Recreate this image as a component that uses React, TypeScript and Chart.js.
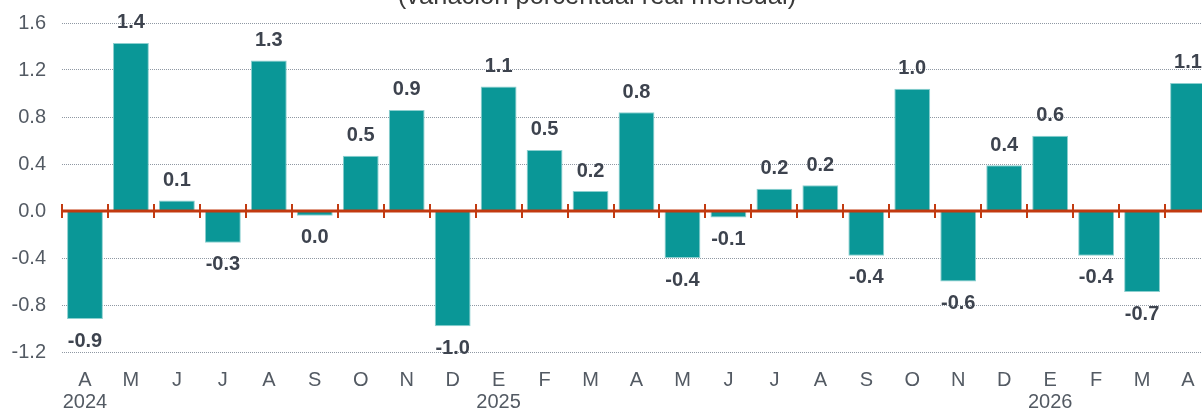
import React, { useEffect, useRef } from "react";
import { Chart, registerables } from "chart.js";

Chart.register(...registerables);

const months = ["A", "M", "J", "J", "A", "S", "O", "N", "D", "E", "F", "M", "A", "M", "J", "J", "A", "S", "O", "N", "D", "E", "F", "M", "A"];
const years = ["2024", "", "", "", "", "", "", "", "", "2025", "", "", "", "", "", "", "", "", "", "", "", "2026", "", "", ""];
const values = [-0.92, 1.43, 0.09, -0.27, 1.28, -0.04, 0.47, 0.86, -0.98, 1.06, 0.52, 0.17, 0.84, -0.4, -0.055, 0.19, 0.22, -0.38, 1.04, -0.6, 0.39, 0.64, -0.38, -0.69, 1.09];
const yMin = -1.2;
const yMax = 1.6;
const yStep = 0.4;
const title = "(variación porcentual real mensual)";

const CANVAS_W = 1211;
const CANVAS_H = 420;
const AREA_BOTTOM = 352;
const TOP_PAD = 23;
const AXIS_W = 62;

const FONT = "'Liberation Sans', Arial, sans-serif";
const TEXT = "#535a63";
const LABEL = "#3d434e";
const BAR = "#0a9797";
const RED = "#c23a10";

const fmt = (v: number) => {
  const s = v.toFixed(1);
  return s === "-0.0" ? "0.0" : s;
};

const titlePlugin = {
  id: "topTitle",
  afterDraw(chart: any) {
    const ctx = chart.ctx;
    ctx.save();
    ctx.font = `25.5px ${FONT}`;
    ctx.fillStyle = "#3a3a3a";
    ctx.textAlign = "center";
    ctx.textBaseline = "alphabetic";
    ctx.fillText(title, 597, 4);
    ctx.restore();
  },
};

const zeroLinePlugin = {
  id: "zeroLine",
  afterDatasetsDraw(chart: any) {
    const ctx = chart.ctx;
    const xs = chart.scales.x;
    const ys = chart.scales.y;
    const y0 = ys.getPixelForValue(0);
    const w = xs.getPixelForValue(1) - xs.getPixelForValue(0);
    ctx.save();
    ctx.strokeStyle = RED;
    ctx.lineWidth = 3;
    ctx.beginPath();
    ctx.moveTo(chart.chartArea.left, y0);
    ctx.lineTo(chart.chartArea.right, y0);
    ctx.stroke();
    ctx.lineWidth = 2;
    for (let i = 0; i <= months.length; i++) {
      const bx = Math.round(xs.getPixelForValue(0) - w / 2 + i * w);
      ctx.beginPath();
      ctx.moveTo(bx, y0 - 7);
      ctx.lineTo(bx, y0 + 7);
      ctx.stroke();
    }
    ctx.restore();
  },
};

const dataLabelPlugin = {
  id: "dataLabels",
  afterDatasetsDraw(chart: any) {
    const ctx = chart.ctx;
    const meta = chart.getDatasetMeta(0);
    ctx.save();
    ctx.font = `bold 20px ${FONT}`;
    ctx.fillStyle = LABEL;
    ctx.textAlign = "center";
    ctx.textBaseline = "middle";
    meta.data.forEach((el: any, i: number) => {
      const v = values[i];
      const y = v >= 0 ? el.y - 20 : el.y + 22;
      ctx.fillText(fmt(v), el.x, y);
    });
    ctx.restore();
  },
};

export default function App() {
  const ref = useRef<HTMLCanvasElement | null>(null);

  useEffect(() => {
    if (!ref.current) return;
    const labels = months.map((m, i) => (years[i] ? [m, years[i]] : m));
    const chart = new Chart(ref.current, {
      type: "bar",
      data: {
        labels,
        datasets: [
          {
            data: values,
            backgroundColor: BAR,
            borderColor: "#8ccfcf",
            borderWidth: 1,
            barPercentage: 0.78,
            categoryPercentage: 1,
          },
        ],
      },
      options: {
        responsive: false,
        animation: false,
        devicePixelRatio: 1,
        layout: { padding: { top: TOP_PAD, left: 0, right: 0, bottom: 0 } },
        plugins: {
          legend: { display: false },
          tooltip: { enabled: false },
          title: { display: false },
        },
        scales: {
          x: {
            grid: { display: false },
            border: { display: false },
            ticks: {
              autoSkip: false,
              maxRotation: 0,
              minRotation: 0,
              padding: 9,
              color: TEXT,
              font: { family: FONT, size: 20, lineHeight: 1.1 },
            },
            afterFit(scale: any) {
              scale.height = CANVAS_H - AREA_BOTTOM;
              scale.paddingLeft = 0;
              scale.paddingRight = 0;
            },
          },
          y: {
            min: yMin,
            max: yMax,
            grid: { color: "#8f98a3", lineWidth: 1, drawTicks: false },
            border: { display: false, dash: [1, 1] },
            ticks: {
              stepSize: yStep,
              padding: 16,
              color: TEXT,
              font: { family: FONT, size: 20 },
              callback: (v: any) => fmt(Number(v)),
            },
            afterFit(scale: any) {
              scale.width = AXIS_W;
              scale.paddingTop = 0;
              scale.paddingBottom = 0;
            },
          },
        },
      },
      plugins: [zeroLinePlugin, dataLabelPlugin, titlePlugin],
    });
    return () => chart.destroy();
  }, []);

  return (
    <div
      style={{
        position: "fixed",
        left: 0,
        top: 0,
        width: 1202,
        height: 409,
        overflow: "hidden",
        background: "#ffffff",
      }}
    >
      <canvas ref={ref} width={CANVAS_W} height={CANVAS_H} style={{ display: "block", width: CANVAS_W, height: CANVAS_H }} />
    </div>
  );
}
